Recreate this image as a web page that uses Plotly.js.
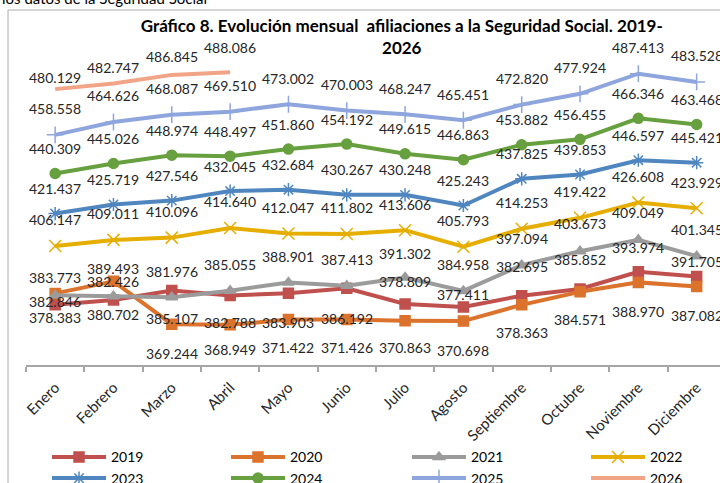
<!DOCTYPE html>
<html>
<head>
<meta charset="utf-8">
<script src="https://cdn.plot.ly/plotly-3.0.1.min.js"></script>
<style>
  body { margin: 0; background: #fff; }
  #myPlot { width: 720px; height: 483px; }
</style>
</head>
<body>
<div id="myPlot"></div>
<script>
const months = ["Enero", "Febrero", "Marzo", "Abril", "Mayo", "Junio", "Julio",
  "Agosto", "Septiembre", "Octubre", "Noviembre", "Diciembre"];

const y2019 = [378383, 380702, 385107, 382788, 383903, 386192, 378809, 377411, 382695, 385852, 393974, 391705];
const y2020 = [383773, 389493, 369244, 368949, 371422, 371426, 370863, 370698, 378363, 384571, 388970, 387082];
const y2021 = [382846, 382426, 381976, 385055, 388901, 387413, 391302, 384958, 397094, 403673, 409049, 401345];
const y2022 = [406147, 409011, 410096, 414640, 412047, 411802, 413606, 405793, 414253, 419422, 426608, 423929];
const y2023 = [421437, 425719, 427546, 432045, 432684, 430267, 430248, 425243, 437825, 439853, 446597, 445421];
const y2024 = [440309, 445026, 448974, 448497, 451860, 454192, 449615, 446863, 453882, 456455, 466346, 463468];
const y2025 = [458558, 464626, 468087, 469510, 473002, 470003, 468247, 465451, 472820, 477924, 487413, 483528];
const y2026 = [480129, 482747, 486845, 488086];

// label offsets in px (positive = above the point), as placed in the original
const shift2019 = [-13, -15, -28, -27, -29, -30, 22, 12, 29, 29, 24, 15];
const shift2020 = [16, 13, -29, -25, -28, -28, -27, -29, -28, -28, -29, -29];
const shift2021 = [-6, 15, 26, 26, 26, 26, 24, 26, 27, 28, 27, 27];
const shift2022 = 26, shift2023 = 25, shift2024 = 25, shift2025 = 26;
const shift2026 = [12, 16, 18, 25];

const font = "Lato, 'Open Sans', sans-serif";

function fmt(v) {
  return String(v).replace(/\B(?=(\d{3})+(?!\d))/g, ".");
}

// legend is laid out in 4 columns of 2 rows, one small legend per column
const series = [
  {name: "2019", y: y2019, color: "#C0504D", symbol: "square", size: 10, shift: shift2019, legend: "legend"},
  {name: "2020", y: y2020, color: "#DC732D", symbol: "square", size: 10, shift: shift2020, legend: "legend2"},
  {name: "2021", y: y2021, color: "#9B9B9B", symbol: "triangle-up", size: 10, shift: shift2021, legend: "legend3"},
  {name: "2022", y: y2022, color: "#E5AE00", symbol: "x-thin-open", size: 12, shift: shift2022, legend: "legend4"},
  {name: "2023", y: y2023, color: "#4F86C0", symbol: "asterisk-open", size: 11, shift: shift2023, legend: "legend"},
  {name: "2024", y: y2024, color: "#67A03E", symbol: "circle", size: 10, shift: shift2024, legend: "legend2"},
  {name: "2025", y: y2025, color: "#8EA5DD", symbol: "cross-thin-open", size: 12, shift: shift2025, legend: "legend3"},
  {name: "2026", y: y2026, color: "#F2A486", symbol: null, size: 0, shift: shift2026, legend: "legend4"}
];

const data = series.map(s => {
  const trace = {
    x: months.slice(0, s.y.length),
    y: s.y,
    name: s.name,
    legend: s.legend,
    type: "scatter",
    mode: s.symbol ? "lines+markers" : "lines",
    line: {color: s.color, width: 4},
    hoverinfo: "skip"
  };
  if (s.symbol) {
    trace.marker = {symbol: s.symbol, size: s.size, color: s.color,
      line: {color: s.color, width: 1.5}};
  }
  return trace;
});

const annotations = [];
series.forEach(s => {
  s.y.forEach((v, i) => {
    annotations.push({
      x: months[i], y: v, xref: "x", yref: "y",
      text: fmt(v), showarrow: false,
      xanchor: "center", yanchor: "middle",
      yshift: Array.isArray(s.shift) ? s.shift[i] : s.shift,
      font: {family: font, size: 14, color: "#262626"}
    });
  });
});

// cut-off text above the chart box
annotations.push({
  xref: "paper", yref: "paper", x: -0.0375, y: 1.154,
  xanchor: "left", yanchor: "middle", showarrow: false,
  text: "los datos de la Seguridad Social",
  font: {family: font, size: 15, color: "#000"}
});

function colLegend(px) {
  return {
    orientation: "v",
    xref: "container", yref: "container",
    x: px / 720, xanchor: "left",
    y: 0.0863, yanchor: "top",
    itemwidth: 54,
    font: {family: font, size: 14, color: "#000"},
    tracegroupgap: 0,
    bgcolor: "rgba(0,0,0,0)"
  };
}

const layout = {
  width: 720,
  height: 483,
  margin: {l: 26, r: 0, t: 47, b: 118, autoexpand: false},
  paper_bgcolor: "#fff",
  plot_bgcolor: "#fff",
  font: {family: font, color: "#262626"},
  title: {
    text: "Gráfico 8. Evolución mensual  afiliaciones a la Seguridad Social. 2019-<br>2026",
    font: {family: font, size: 17, color: "#000", weight: "bold"},
    xref: "container", yref: "container",
    x: 0.558, xanchor: "center",
    y: 0.934, yanchor: "top"
  },
  xaxis: {
    type: "category",
    range: [-0.5, 11.4],
    showline: true, linecolor: "#A6A6A6", linewidth: 2,
    ticks: "outside", tickson: "boundaries", ticklen: 5,
    tickcolor: "#A6A6A6", tickwidth: 2,
    tickangle: -45,
    ticklabelstandoff: 6,
    tickfont: {family: font, size: 15, color: "#262626"},
    showgrid: false, zeroline: false, fixedrange: true,
    automargin: false
  },
  yaxis: {
    visible: false,
    range: [350000, 500000],
    fixedrange: true
  },
  showlegend: true,
  legend: colLegend(47),
  legend2: colLegend(226),
  legend3: colLegend(407),
  legend4: colLegend(586),
  shapes: [
    {type: "line", xref: "paper", yref: "paper",
     x0: -0.0259, x1: -0.0259, y0: 1.1164, y1: -0.5,
     line: {color: "#C8C8C8", width: 1.5}},
    {type: "line", xref: "paper", yref: "paper",
     x0: -0.0259, x1: 1.1, y0: 1.1164, y1: 1.1164,
     line: {color: "#C8C8C8", width: 1.5}}
  ],
  annotations: annotations
};

Plotly.newPlot("myPlot", data, layout, {displayModeBar: false, staticPlot: true});
</script>
</body>
</html>
